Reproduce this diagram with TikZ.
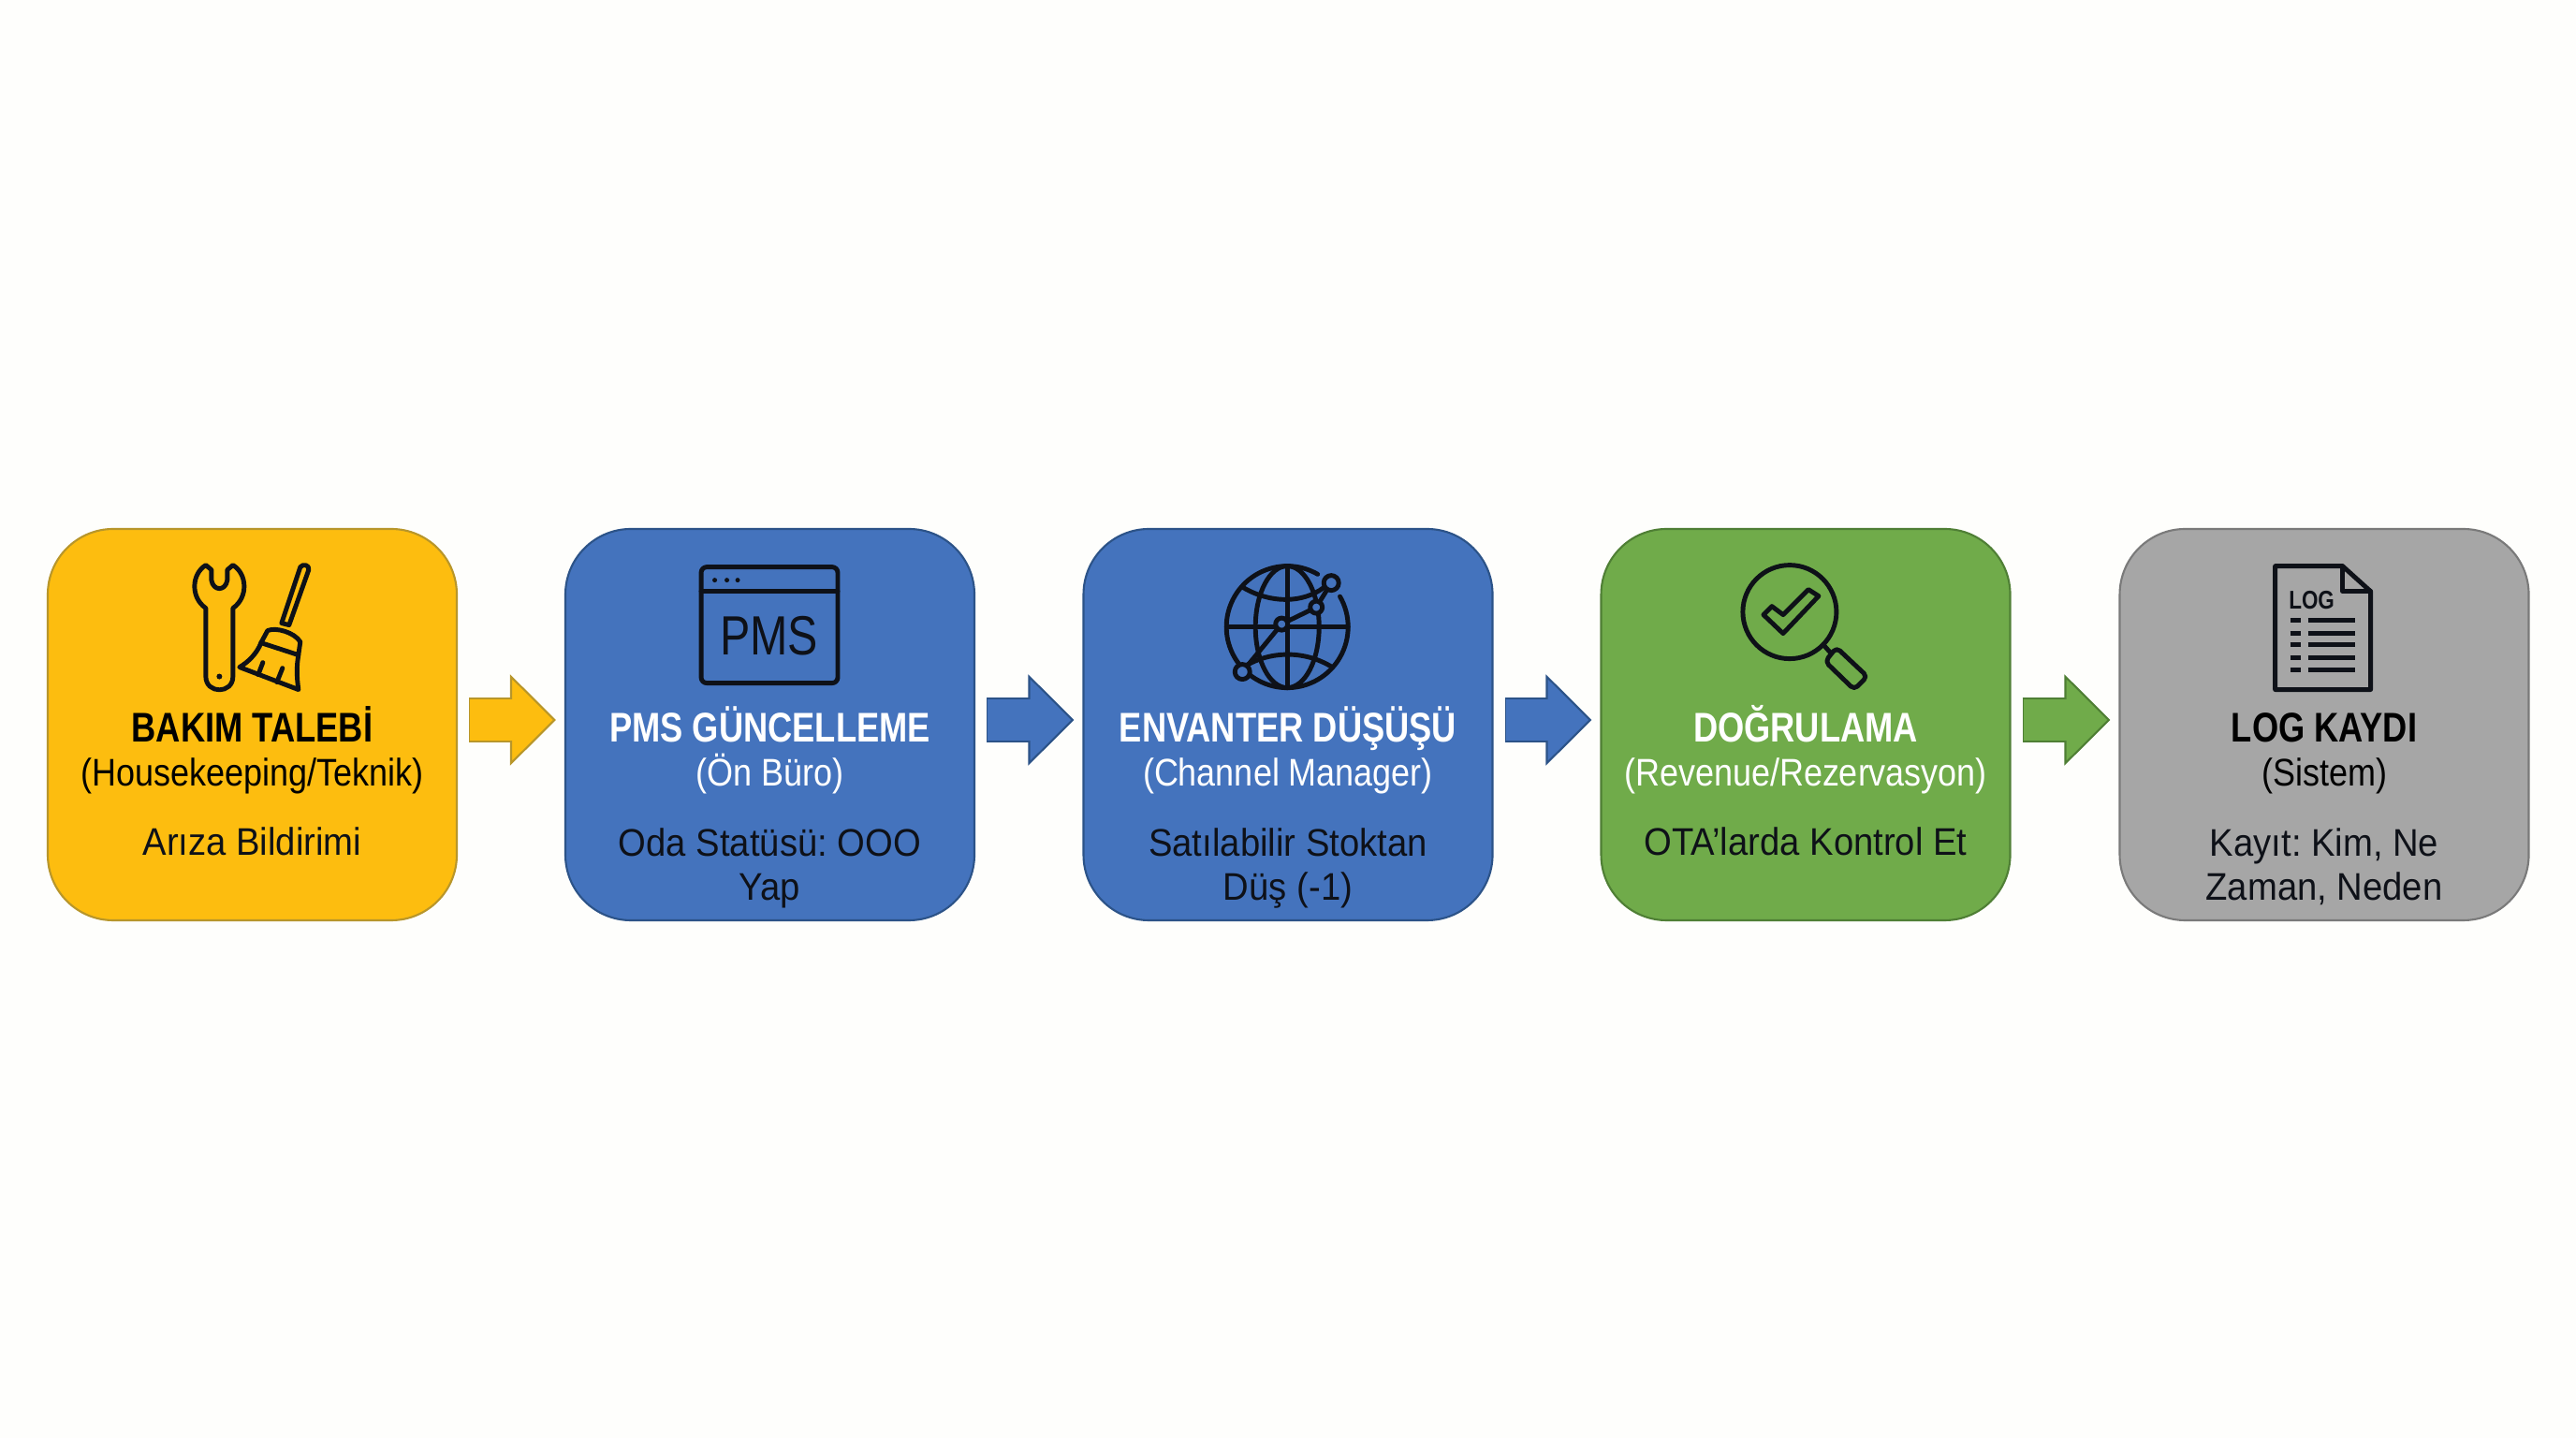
\documentclass[tikz,border=0pt]{standalone}
\usepackage{fontspec}
\setmainfont{Liberation Sans}[FakeStretch=0.82]
\newfontfamily\subfont{Liberation Sans}[FakeStretch=0.875]
\newfontfamily\detailfont{Liberation Sans}[FakeStretch=0.93]
\usetikzlibrary{arrows.meta}
\definecolor{pagewhite}{HTML}{FEFEFC}
\definecolor{boxyellow}{HTML}{FDBD0F}
\definecolor{edgeyellow}{HTML}{B8962A}
\definecolor{boxblue}{HTML}{4473BD}
\definecolor{edgeblue}{HTML}{2C5388}
\definecolor{boxgreen}{HTML}{70AB4A}
\definecolor{edgegreen}{HTML}{4F7F35}
\definecolor{boxgray}{HTML}{A6A6A6}
\definecolor{edgegray}{HTML}{7A7A7A}
\definecolor{inkdark}{HTML}{0E1118}
\tikzset{
  stepbox/.style={draw, line width=0.6pt, rounded corners=0.7cm, minimum width=4.37cm, minimum height=4.18cm},
  titletext/.style={anchor=base, font=\fontsize{12.6}{14}\selectfont\bfseries},
  subtext/.style={anchor=base, font=\fontsize{11.7}{13}\selectfont\subfont},
  detailtext/.style={anchor=base, align=center, text=inkdark, font=\fontsize{11.7}{13.6}\selectfont\detailfont\frenchspacing},
  flowarrow/.style 2 args={draw=#2, line width=4.8mm, shorten <=1.2mm, shorten >=0.9mm,
    -{Triangle[length=4.9mm, width=9.7mm, line width=0.6pt, fill=#1, color=#2]},
    postaction={draw=#1, -, line width=4.4mm, shorten <=1.3mm, shorten >=5.5mm}},
  pxgrid/.style={shift={(0,15.36)}, x=0.01cm, y=-0.01cm},
  iconline/.style={draw=inkdark, line width=1.4pt, line join=round, line cap=round},
}
\begin{document}
\begin{tikzpicture}
\useasboundingbox (0,0) rectangle (27.52,15.36);
\fill[pagewhite] (0,0) rectangle (27.52,15.36);

% Boxes
\node[stepbox, fill=boxyellow, draw=edgeyellow] (talep) at (2.695,7.62) {};
\node[stepbox, fill=boxblue, draw=edgeblue] (pms) at (8.225,7.62) {};
\node[stepbox, fill=boxblue, draw=edgeblue] (envanter) at (13.76,7.62) {};
\node[stepbox, fill=boxgreen, draw=edgegreen] (dogrulama) at (19.29,7.62) {};
\node[stepbox, fill=boxgray, draw=edgegray] (log) at (24.83,7.62) {};

% Connections
\draw[flowarrow={boxyellow}{edgeyellow}] ([yshift=0.05cm]talep.east) -- ([yshift=0.05cm]pms.west);
\draw[flowarrow={boxblue}{edgeblue}] ([yshift=0.05cm]pms.east) -- ([yshift=0.05cm]envanter.west);
\draw[flowarrow={boxblue}{edgeblue}] ([yshift=0.05cm]envanter.east) -- ([yshift=0.05cm]dogrulama.west);
\draw[flowarrow={boxgreen}{edgegreen}] ([yshift=0.05cm]dogrulama.east) -- ([yshift=0.05cm]log.west);

% Texts
\node[titletext, text=black] (talepbaslik) at (2.695,7.43) {BAKIM TALEBİ};
\node[subtext, text=black] (talepalt) at (2.695,6.96) {(Housekeeping/Teknik)};
\node[detailtext] (talepnot) at (2.695,6.22) {Arıza Bildirimi};

\node[titletext, text=white] (pmsbaslik) at (8.225,7.43) {PMS GÜNCELLEME};
\node[subtext, text=white] (pmsalt) at (8.225,6.96) {(Ön Büro)};
\node[detailtext] (pmsnot) at (8.225,5.74) {Oda Statüsü: OOO\\Yap};

\node[titletext, text=white] (envanterbaslik) at (13.76,7.43) {ENVANTER DÜŞÜŞÜ};
\node[subtext, text=white] (envanteralt) at (13.76,6.96) {(Channel Manager)};
\node[detailtext] (envanternot) at (13.76,5.74) {Satılabilir Stoktan\\Düş (-1)};

\node[titletext, text=white] (dogrulamabaslik) at (19.29,7.43) {DOĞRULAMA};
\node[subtext, text=white] (dogrulamaalt) at (19.29,6.96) {(Revenue/Rezervasyon)};
\node[detailtext] (dogrulamanot) at (19.29,6.22) {OTA’larda Kontrol Et};

\node[titletext, text=black] (logbaslik) at (24.83,7.43) {LOG KAYDI};
\node[subtext, text=black] (logalt) at (24.83,6.96) {(Sistem)};
\node[detailtext] (lognot) at (24.83,5.74) {Kayıt: Kim, Ne\\Zaman, Neden};

% Icons
\begin{scope}[pxgrid]
% wrench and broom
\draw[iconline] (220,604) .. controls (205,613) and (203,638) .. (220,650) -- (220,723)
  .. controls (220,742) and (249,742) .. (249,723) -- (249,650)
  .. controls (266,638) and (264,613) .. (249,604) -- (243,609) -- (243,620)
  .. controls (241,632) and (228,632) .. (226,620) -- (226,609) -- cycle;
\fill[inkdark] (234.5,723) circle[radius=0.03cm];
\draw[iconline] (321,606) .. controls (324,602) and (331,604) .. (330,609) -- (309,668) -- (301,666) -- cycle;
\draw[iconline] (286,674) .. controls (295,670) and (315,676) .. (321,686) -- (319,700) -- (279,687) -- cycle;
\draw[iconline] (279,687) .. controls (275,698) and (265,708) .. (256,713) -- (319,737) .. controls (317,722) and (317,712) .. (319,700);
\draw[iconline] (276,721) -- (281,708);
\draw[iconline] (296,729) -- (302,714);
% browser window
\draw[iconline, rounded corners=0.06cm] (749.5,606) rectangle (895.5,730);
\draw[iconline] (749.5,632) -- (895.5,632);
\fill[inkdark] (764,620) circle[radius=0.025cm] (777,620) circle[radius=0.025cm] (788.5,620) circle[radius=0.025cm];
\node[text=inkdark, font=\fontsize{16.8}{18}\selectfont] (pmsikon) at (822,680) {PMS};
% globe
\draw[iconline] (1408.5,613.7) arc[start angle=60, end angle=390, radius=0.65cm];
\draw[iconline] (1376,670) ellipse[x radius=0.34cm, y radius=0.65cm];
\draw[iconline] (1376,605) -- (1376,735);
\draw[iconline] (1311,670) -- (1441,670);
\draw[iconline] (1329,628) .. controls (1358,645) and (1392,645) .. (1415,628);
\draw[iconline] (1329,713) .. controls (1358,695) and (1395,695) .. (1424,713);
\draw[iconline] (1328,718) -- (1370,667) -- (1407,649) -- (1423,623);
\filldraw[iconline, fill=boxblue] (1423,623) circle[radius=0.08cm];
\filldraw[iconline, fill=boxblue] (1407,649) circle[radius=0.065cm];
\filldraw[iconline, fill=boxblue] (1370,667) circle[radius=0.065cm];
\filldraw[iconline, fill=boxblue] (1328,718) circle[radius=0.08cm];
% magnifier
\draw[iconline] (1913,654) circle[radius=0.5cm];
\draw[iconline] (1949,689) -- (1957,698);
\draw[iconline, rounded corners=0.05cm] (1963,692) -- (1996,723) -- (1982,737) -- (1951,707) -- cycle;
\draw[iconline] (1885,657) -- (1906,677) -- (1944,637) -- (1933,630) -- (1906,657) -- (1894,648) -- cycle;
% log file
\draw[iconline] (2432,605) -- (2504,605) -- (2534,632) -- (2534,737) -- (2432,737) -- cycle;
\draw[iconline] (2504,605) -- (2504,632) -- (2534,632);
\node[text=inkdark, font=\fontsize{7.8}{9}\selectfont\bfseries] (logikon) at (2471,641) {LOG};
\draw[iconline, line cap=butt] (2448,663) -- (2459,663) (2467,663) -- (2517,663);
\draw[iconline, line cap=butt] (2448,677) -- (2459,677) (2467,677) -- (2517,677);
\draw[iconline, line cap=butt] (2448,689) -- (2459,689) (2467,689) -- (2517,689);
\draw[iconline, line cap=butt] (2448,703) -- (2459,703) (2467,703) -- (2517,703);
\draw[iconline, line cap=butt] (2448,716) -- (2459,716) (2467,716) -- (2517,716);
\end{scope}
\end{tikzpicture}
\end{document}
